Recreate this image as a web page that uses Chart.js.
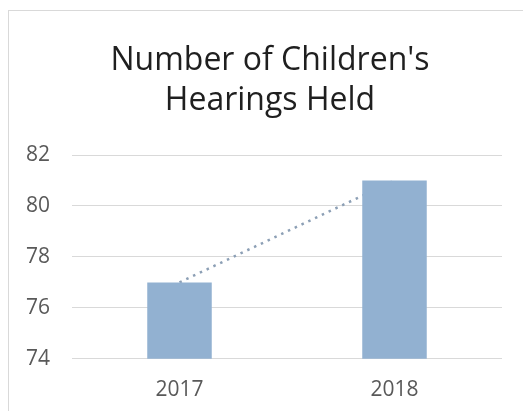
<!DOCTYPE html>
<html>
<head>
<meta charset="utf-8">
<script src="https://cdn.jsdelivr.net/npm/chart.js@4/dist/chart.umd.min.js"></script>
<style>
  html, body { margin: 0; padding: 0; background: #ffffff; overflow: hidden; }
  #frame { position: absolute; left: 8px; top: 10px; width: 600px; height: 500px;
           border-left: 1px solid #d9d9d9; border-top: 1px solid #d9d9d9; }
  #wrap { position: absolute; left: 0; top: 0; width: 523px; height: 411px; }
</style>
</head>
<body>
<div id="frame"></div>
<div id="wrap"><canvas id="c" width="523" height="411"></canvas></div>
<script>
const titleLines = ["Number of Children's", "Hearings Held"];
const categories = ["2017", "2018"];
const hearings = [77, 81];
const trend = [77, 81];
const yTicks = [74, 76, 78, 80, 82];

const titleShift = {
  id: 'titleShift',
  afterLayout(chart) {
    const t = chart.titleBlock;
    if (t) { const w = t.right - t.left; const c = 270; t.left = c - w / 2; t.right = c + w / 2; }
  }
};

new Chart(document.getElementById('c'), {
  data: {
    labels: categories,
    datasets: [
      {
        type: 'bar',
        label: 'Hearings',
        data: hearings,
        backgroundColor: '#92b1d1',
        barPercentage: 0.30,
        categoryPercentage: 1.0,
        order: 1
      },
      {
        type: 'line',
        label: 'Trend',
        data: trend,
        borderColor: '#8c9fb5',
        borderWidth: 2.5,
        borderDash: [2.5, 5],
        pointRadius: 0,
        fill: false,
        order: 2
      }
    ]
  },
  plugins: [titleShift],
  options: {
    responsive: false,
    animation: false,
    layout: { padding: { left: 0, right: 21, top: 41, bottom: -3 } },
    plugins: {
      legend: { display: false },
      tooltip: { enabled: false },
      title: {
        display: true,
        text: titleLines,
        color: '#1f1f1f',
        font: { family: 'Open Sans', size: 32, weight: 'normal', lineHeight: 1.25 },
        padding: { top: 0, bottom: 34 }
      }
    },
    scales: {
      x: {
        grid: { display: false },
        border: { display: false },
        ticks: { color: '#595959', font: { family: 'Open Sans', size: 21 }, padding: 11 }
      },
      y: {
        min: 74, max: 82,
        afterBuildTicks: (axis) => { axis.ticks = yTicks.map(v => ({ value: v })); },
        afterFit: (axis) => { axis.width = 72; },
        grid: { color: '#d9d9d9', lineWidth: 1, drawTicks: false },
        border: { display: false },
        ticks: { color: '#595959', font: { family: 'Open Sans', size: 21 }, padding: 22 }
      }
    }
  }
});
</script>
</body>
</html>
